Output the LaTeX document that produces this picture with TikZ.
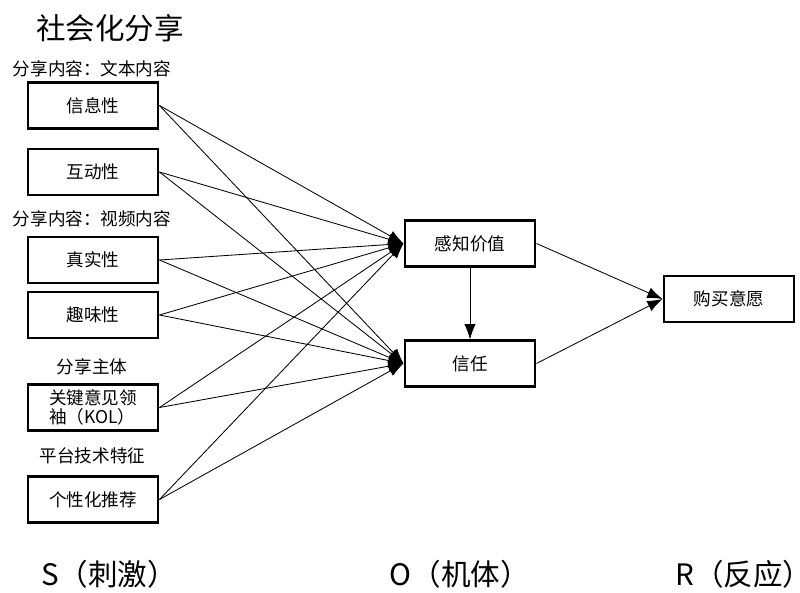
\documentclass[tikz,border=0pt]{standalone}
\usepackage{fontspec}
\setmainfont{Noto Sans CJK SC}
\usetikzlibrary{arrows.meta}

\begin{document}
\begin{tikzpicture}[x=0.025cm,y=-0.025cm,
  box/.style={draw,line width=1.5pt,minimum width=3.27cm,minimum height=1.15cm,font=\fontsize{12.5pt}{14pt}\selectfont,inner sep=1pt},
  grp/.style={font=\fontsize{12.5pt}{14pt}\selectfont},
  big/.style={font=\fontsize{21pt}{24pt}\selectfont},
  link/.style={line width=0.6pt,-{Latex[length=3.8mm,width=2.8mm]}}]
\useasboundingbox (0,0) rectangle (800,592);

\node[big] (title) at (110,28) {社会化分享};

% stimulus
\node[grp] (g1) at (92,69) {分享内容：文本内容};
\node[box] (s1) at (93,105.5) {信息性};
\node[box] (s2) at (93,172) {互动性};
\node[grp] (g2) at (92,219) {分享内容：视频内容};
\node[box] (s3) at (93,260) {真实性};
\node[box] (s4) at (93,315) {趣味性};
\node[grp] (g3) at (92,367) {分享主体};
\node[box,align=left] (s5) at (93,407.5) {关键意见领\\袖（KOL）};
\node[grp] (g4) at (92.5,456) {平台技术特征};
\node[box] (s6) at (93,499.5) {个性化推荐};

% organism
\node[box] (o1) at (470,243.5) {感知价值};
\node[box] (o2) at (470,363.5) {信任};

% response
\node[box] (r1) at (729,299) {购买意愿};

\foreach \s in {s1,s2,s3,s4,s5,s6} {
  \draw[link] (\s.east) -- (o1.west);
  \draw[link] (\s.east) -- (o2.west);
}
\draw[link] (o1) -- (o2);
\draw[link] (o1.east) -- (r1.west);
\draw[link] (o2.east) -- (r1.west);

\node[big] (S) at (109,574) {S（刺激）};
\node[big] (O) at (460,574) {O（机体）};
\node[big,anchor=east,inner sep=0pt] (R) at (798,574) {R（反应{\addfontfeature{RawFeature=+halt}）}};
\end{tikzpicture}
\end{document}
